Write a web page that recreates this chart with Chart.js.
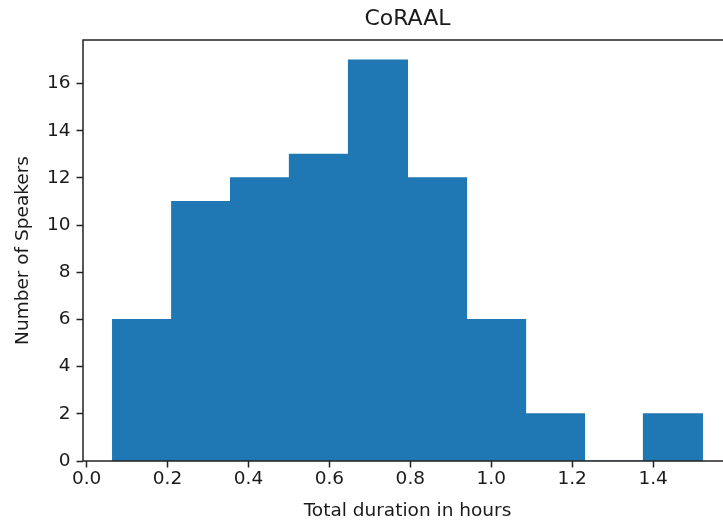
<!DOCTYPE html>
<html>
<head>
<meta charset="utf-8">
<script src="https://cdn.jsdelivr.net/npm/chart.js@4.4.1/dist/chart.umd.min.js"></script>
<style>
  html, body { margin: 0; padding: 0; background: #fff; overflow: hidden; }
  canvas { display: block; }
</style>
</head>
<body>
<canvas id="grafico" width="735" height="527"></canvas>
<script>
// histogram bins (hours) and speaker counts
const binEdges = [0.064, 0.210, 0.356, 0.501, 0.647, 0.793, 0.939, 1.085, 1.230, 1.376, 1.522];
const speakerCounts = [6, 11, 12, 13, 17, 12, 6, 2, 0, 2];
const xTicks = [0.0, 0.2, 0.4, 0.6, 0.8, 1.0, 1.2, 1.4];
const yTicks = [0, 2, 4, 6, 8, 10, 12, 14, 16];

const chartTitle = 'CoRAAL';
const xTitle = 'Total duration in hours';
const yTitle = 'Number of Speakers';

const fonte = 'DejaVu Sans';
const corTexto = '#1a1a1a';
const corEixo = '#222';

// bar centres from the bin edges
const pontos = speakerCounts.map((v, i) => ({ x: (binEdges[i] + binEdges[i + 1]) / 2, y: v }));

// frame round the plot + title centred over the axes
const moldura = {
  id: 'moldura',
  afterDraw(chart) {
    const { ctx, chartArea } = chart;
    ctx.save();
    ctx.strokeStyle = corEixo;
    ctx.lineWidth = 1.5;
    ctx.strokeRect(chartArea.left, chartArea.top, chartArea.right - chartArea.left, chartArea.bottom - chartArea.top);
    ctx.fillStyle = corTexto;
    ctx.font = '22px "' + fonte + '"';
    ctx.textAlign = 'center';
    ctx.textBaseline = 'middle';
    ctx.fillText(chartTitle, (chartArea.left + chartArea.right) / 2, 19);
    ctx.restore();
  }
};

new Chart(document.getElementById('grafico').getContext('2d'), {
  type: 'bar',
  data: {
    datasets: [{
      data: pontos,
      backgroundColor: '#1f77b4',
      borderWidth: 0,
      inflateAmount: 0.6,
      barPercentage: 1,
      categoryPercentage: 1
    }]
  },
  options: {
    responsive: false,
    animation: false,
    layout: { padding: { top: 40, right: 3, left: 0, bottom: 0 } },
    plugins: { legend: { display: false }, tooltip: { enabled: false } },
    scales: {
      x: {
        type: 'linear',
        offset: false,
        min: -0.009,
        max: 1.595,
        afterBuildTicks: s => { s.ticks = xTicks.map(v => ({ value: v })); },
        afterFit: s => { s.height = 66; },
        grid: { offset: false, drawOnChartArea: false, drawTicks: true, tickLength: 6.5, tickWidth: 1.5, tickColor: corEixo },
        border: { display: false },
        ticks: {
          color: corTexto,
          padding: 1,
          maxRotation: 0,
          font: { family: fonte, size: 18.5 },
          callback: v => v.toFixed(1)
        },
        title: {
          display: true,
          text: xTitle,
          color: corTexto,
          font: { family: fonte, size: 18.5 },
          padding: { top: 0, bottom: 5 }
        }
      },
      y: {
        min: 0,
        max: 17.85,
        afterBuildTicks: s => { s.ticks = yTicks.map(v => ({ value: v })); },
        afterFit: s => { s.width = 83; },
        grid: { drawOnChartArea: false, drawTicks: true, tickLength: 6.5, tickWidth: 1.5, tickColor: corEixo },
        border: { display: false },
        ticks: {
          color: corTexto,
          padding: 6,
          font: { family: fonte, size: 18.5 }
        },
        title: {
          display: true,
          text: yTitle,
          color: corTexto,
          font: { family: fonte, size: 18.5 },
          padding: { top: 12, bottom: 0 }
        }
      }
    }
  },
  plugins: [moldura]
});
</script>
</body>
</html>
